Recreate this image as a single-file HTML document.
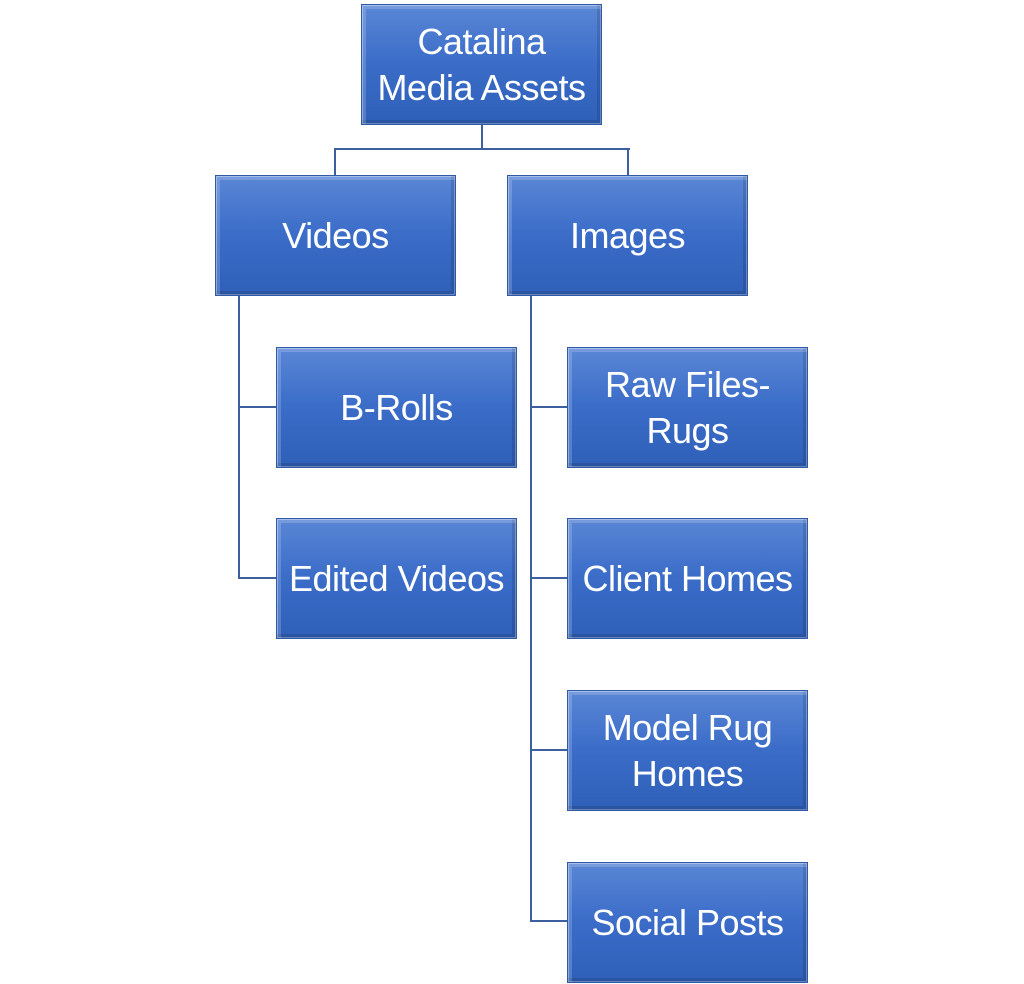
<!DOCTYPE html>
<html><head><style>
body{margin:0;width:1024px;height:984px;background:#fff;position:relative;overflow:hidden;font-family:"Liberation Sans",sans-serif}
.b{position:absolute;width:241px;height:121px;box-sizing:border-box;background:linear-gradient(#5a86d5,#3a6cc8 50%,#2f60b8);border:1px solid #2e5aa8;color:#fff;font-size:36px;display:flex;align-items:center;justify-content:center;text-align:center;line-height:46px;letter-spacing:-0.5px;white-space:nowrap;box-shadow:inset 6px 6px 0 -2px rgba(255,255,255,.18),inset -6px -6px 0 -2px rgba(0,0,0,.12),inset 0 0 0 1px rgba(255,255,255,.35)}
.l{position:absolute;background:#3c5f9e}
</style></head><body>
<div class="l" style="left:481px;top:124px;width:2px;height:26px"></div>
<div class="l" style="left:334px;top:148px;width:296px;height:2px"></div>
<div class="l" style="left:334px;top:148px;width:2px;height:27px"></div>
<div class="l" style="left:627px;top:148px;width:2px;height:27px"></div>
<div class="l" style="left:238px;top:296px;width:2px;height:283px"></div>
<div class="l" style="left:238px;top:406px;width:38px;height:2px"></div>
<div class="l" style="left:238px;top:577px;width:38px;height:2px"></div>
<div class="l" style="left:530px;top:296px;width:2px;height:626px"></div>
<div class="l" style="left:530px;top:406px;width:37px;height:2px"></div>
<div class="l" style="left:530px;top:577px;width:37px;height:2px"></div>
<div class="l" style="left:530px;top:749px;width:37px;height:2px"></div>
<div class="l" style="left:530px;top:920px;width:37px;height:2px"></div>
<div class="b" style="left:361px;top:4px">Catalina<br>Media Assets</div>
<div class="b" style="left:215px;top:175px">Videos</div>
<div class="b" style="left:507px;top:175px">Images</div>
<div class="b" style="left:276px;top:347px">B-Rolls</div>
<div class="b" style="left:276px;top:518px">Edited Videos</div>
<div class="b" style="left:567px;top:347px">Raw Files-<br>Rugs</div>
<div class="b" style="left:567px;top:518px">Client Homes</div>
<div class="b" style="left:567px;top:690px">Model Rug<br>Homes</div>
<div class="b" style="left:567px;top:862px">Social Posts</div>
</body></html>
